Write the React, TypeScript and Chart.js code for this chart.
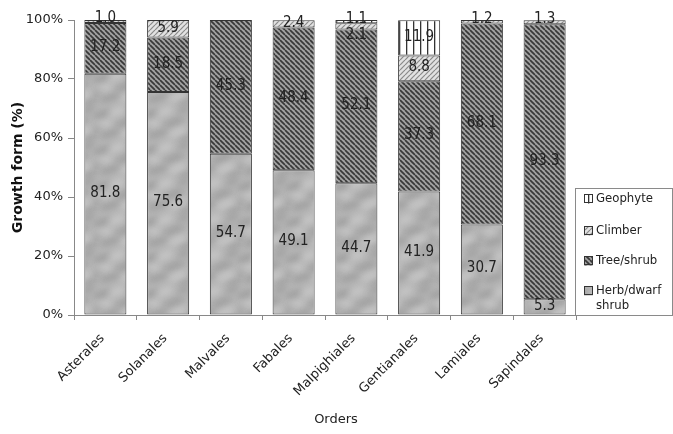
import React, { useEffect, useRef } from 'react';
import { Chart, registerables } from 'chart.js';

Chart.register(...registerables);

const categories = ['Asterales', 'Solanales', 'Malvales', 'Fabales', 'Malpighiales', 'Gentianales', 'Lamiales', 'Sapindales'];
const herbValues = [81.8, 75.6, 54.7, 49.1, 44.7, 41.9, 30.7, 5.3];
const treeValues = [17.2, 18.5, 45.3, 48.4, 52.1, 37.3, 68.1, 93.3];
const climberValues: (number | null)[] = [1.0, 5.9, null, 2.4, 2.1, 8.8, 1.2, 1.3];
const geophyteValues: (number | null)[] = [null, null, null, null, 1.1, 11.9, null, null];
const yTickValues = [0, 20, 40, 60, 80, 100];
const seriesNames = ['Herb/dwarf shrub', 'Tree/shrub', 'Climber', 'Geophyte'];
const legendLines = [['Geophyte'], ['Climber'], ['Tree/shrub'], ['Herb/dwarf', 'shrub']];
const xTitle = 'Orders';
const yTitle = 'Growth form (%)';

const FONT = "'DejaVu Sans', Verdana, sans-serif";
const FONT_C = "'DejaVu Sans Condensed', 'DejaVu Sans', sans-serif";

function makePattern(kind: string): CanvasPattern | string {
  const c = document.createElement('canvas');
  const ctx = c.getContext('2d');
  if (!ctx) return '#999';
  if (kind === 'tree') {
    const s = 5;
    c.width = s; c.height = s;
    ctx.fillStyle = '#a2a2a2';
    ctx.fillRect(0, 0, s, s);
    ctx.strokeStyle = '#383838';
    ctx.lineWidth = 1.7;
    for (const k of [-s, 0, s]) {
      ctx.beginPath();
      ctx.moveTo(k, 0);
      ctx.lineTo(k + s, s);
      ctx.stroke();
    }
  } else if (kind === 'climber') {
    const s = 5;
    c.width = s; c.height = s;
    ctx.fillStyle = '#e2e2e2';
    ctx.fillRect(0, 0, s, s);
    ctx.strokeStyle = '#8a8a8a';
    ctx.lineWidth = 1.2;
    for (const k of [-s, 0, s]) {
      ctx.beginPath();
      ctx.moveTo(k, s);
      ctx.lineTo(k + s, 0);
      ctx.stroke();
    }
  } else if (kind === 'geophyte') {
    c.width = 7; c.height = 4;
    ctx.fillStyle = '#ffffff';
    ctx.fillRect(0, 0, 7, 4);
    ctx.fillStyle = '#333333';
    ctx.fillRect(0, 0, 1.3, 4);
  } else {
    // mottled grey texture
    const w = 48, h = 36;
    c.width = w; c.height = h;
    ctx.fillStyle = '#b9b9b9';
    ctx.fillRect(0, 0, w, h);
    ctx.filter = 'blur(3px)';
    ctx.fillStyle = 'rgba(140,140,140,0.55)';
    const blobs = [[6, 6, 10, 4], [30, 14, 12, 4], [14, 26, 11, 4], [42, 30, 9, 3], [40, 2, 8, 3], [2, 20, 6, 3]];
    for (const [x, y, rx, ry] of blobs) {
      for (const dx of [-w, 0, w]) for (const dy of [-h, 0, h]) {
        ctx.beginPath();
        ctx.ellipse(x + dx, y + dy, rx, ry, -0.35, 0, Math.PI * 2);
        ctx.fill();
      }
    }
    ctx.fillStyle = 'rgba(215,215,215,0.5)';
    const light = [[20, 4, 9, 3], [8, 16, 8, 3], [34, 24, 10, 3]];
    for (const [x, y, rx, ry] of light) {
      for (const dx of [-w, 0, w]) for (const dy of [-h, 0, h]) {
        ctx.beginPath();
        ctx.ellipse(x + dx, y + dy, rx, ry, -0.35, 0, Math.PI * 2);
        ctx.fill();
      }
    }
    ctx.filter = 'none';
  }
  return ctx.createPattern(c, 'repeat') || '#999';
}

export default function App() {
  const ref = useRef<HTMLCanvasElement | null>(null);

  useEffect(() => {
    if (!ref.current) return;
    const fills = {
      herb: makePattern('herb'),
      tree: makePattern('tree'),
      climber: makePattern('climber'),
      geophyte: makePattern('geophyte'),
    };
    const datasetFills = [fills.herb, fills.tree, fills.climber, fills.geophyte];
    const legendFills = [fills.geophyte, fills.climber, fills.tree, fills.herb];

    const labelPlugin = {
      id: 'segLabels',
      afterDatasetsDraw(chart: any) {
        const ctx = chart.ctx;
        ctx.save();
        ctx.font = `15px ${FONT_C}`;
        ctx.fillStyle = '#222';
        ctx.textAlign = 'center';
        ctx.textBaseline = 'middle';
        for (let i = 0; i < categories.length; i++) {
          const segs: { y: number; x: number; text: string; small: boolean }[] = [];
          chart.data.datasets.forEach((ds: any, di: number) => {
            const v = ds.data[i];
            if (v == null || v <= 0) return;
            const el = chart.getDatasetMeta(di).data[i];
            segs.push({ x: el.x, y: (el.y + el.base) / 2, text: v.toFixed(1), small: Math.abs(el.base - el.y) < 6 });
          });
          segs.sort((a, b) => a.y - b.y);
          let prev = -Infinity;
          for (const s of segs) {
            let y = s.small ? s.y - 3 : s.y - 1;
            if (y < prev + 16) y = prev + 16;
            prev = y;
            ctx.fillText(s.text, s.x, y);
          }
        }
        ctx.restore();
      },
      afterDraw(chart: any) {
        const ctx = chart.ctx;
        ctx.save();
        // x axis title
        ctx.font = `13px ${FONT}`;
        ctx.fillStyle = '#222';
        ctx.textAlign = 'center';
        ctx.textBaseline = 'middle';
        ctx.fillText(xTitle, 336, 420);
        // legend
        ctx.strokeStyle = '#8a8a8a';
        ctx.lineWidth = 1;
        ctx.fillStyle = '#fff';
        ctx.fillRect(575.5, 188.5, 97, 127);
        ctx.strokeRect(575.5, 188.5, 97, 127);
        ctx.font = `13px ${FONT_C}`;
        ctx.textBaseline = 'middle';
        ctx.textAlign = 'left';
        const rows = [199, 231, 261, 291];
        legendLines.forEach((lines, k) => {
          const cy = rows[k];
          ctx.fillStyle = legendFills[k];
          ctx.fillRect(584, cy - 4.5, 9, 9);
          ctx.strokeStyle = '#333';
          ctx.strokeRect(584.5, cy - 4.5, 8, 8);
          ctx.fillStyle = '#222';
          lines.forEach((t, j) => ctx.fillText(t, 596, cy + j * 15));
        });
        ctx.restore();
      },
    };

    const chart = new Chart(ref.current, {
      type: 'bar',
      data: {
        labels: categories,
        datasets: [herbValues, treeValues, climberValues, geophyteValues].map((d, di) => ({
          label: seriesNames[di],
          data: d,
          backgroundColor: datasetFills[di] as any,
          borderColor: '#333',
          borderWidth: 1,
          borderSkipped: false,
          categoryPercentage: 1,
          barPercentage: 0.67,
        })),
      },
      options: {
        animation: false,
        responsive: true,
        maintainAspectRatio: false,
        events: [],
        layout: { padding: { left: 0, right: 97, top: 20, bottom: 0 } },
        plugins: { legend: { display: false }, tooltip: { enabled: false } },
        scales: {
          x: {
            stacked: true,
            afterFit: (s: any) => { s.height = 119; },
            grid: { drawOnChartArea: false, drawTicks: true, tickLength: 5, color: '#888', offset: true },
            border: { display: true, color: '#888' },
            ticks: {
              font: { family: FONT, size: 13 }, color: '#222', maxRotation: 45, minRotation: 45, padding: 8, autoSkip: false,
              callback: (_v: any, i: number) => categories[i] + ' ',
            },
            title: { display: false },
          },
          y: {
            stacked: true,
            min: 0,
            max: 100,
            afterFit: (s: any) => { s.width = 74; },
            afterBuildTicks: (s: any) => { s.ticks = yTickValues.map((v) => ({ value: v })); },
            grid: { drawOnChartArea: false, drawTicks: true, tickLength: 6, color: '#888' },
            border: { display: true, color: '#888' },
            ticks: { font: { family: FONT, size: 13 }, color: '#222', padding: 5, callback: (v: any) => v + '%' },
            title: { display: true, text: yTitle, font: { family: FONT, size: 14, weight: 'bold' }, color: '#111', padding: { top: 10, bottom: 0 } },
          },
        },
      },
      plugins: [labelPlugin],
    });
    return () => chart.destroy();
  }, []);

  return (
    <div style={{ position: 'fixed', left: 0, top: 0, width: 673, height: 434 }}>
      <canvas ref={ref} />
    </div>
  );
}
